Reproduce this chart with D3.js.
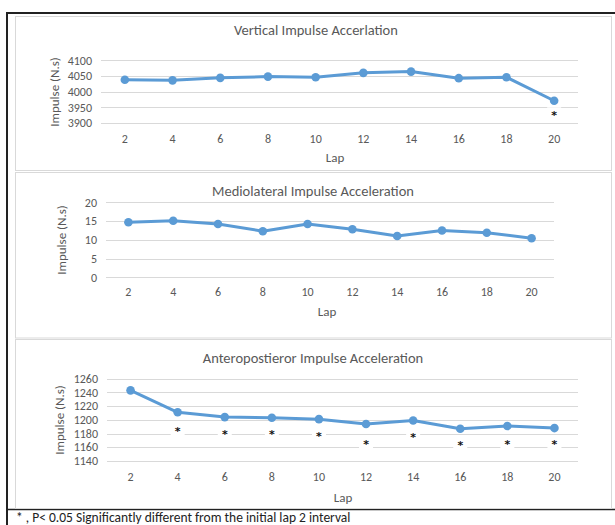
<!DOCTYPE html>
<html>
<head>
<meta charset="utf-8">
<script src="https://cdn.jsdelivr.net/npm/d3@7/dist/d3.min.js"></script>
<style>
  body { margin: 0; background: #fff; font-family: Carlito, Calibri, Lato, sans-serif; }
  .grid line { stroke: #d9d9d9; stroke-width: 1; }
  .ytick { fill: #595959; font-size: 12px; }
  .xtick { fill: #595959; font-size: 12px; }
  .ttl { fill: #595959; font-size: 14.5px; }
  .axttl { fill: #595959; font-size: 13px; }
  .star { fill: #111; font-size: 11px; font-weight: bold; font-family: "DejaVu Sans", sans-serif; }
</style>
</head>
<body>
<svg id="chart" width="615" height="525"></svg>
<script>
// lap categories shared by all three charts
var laps = [2, 4, 6, 8, 10, 12, 14, 16, 18, 20];

// vertical
var verticalImpulse = [4038, 4036, 4044, 4048, 4046, 4060, 4064, 4043, 4046, 3971];
var verticalTicks = [3900, 3950, 4000, 4050, 4100];
var verticalStarLaps = [20];
var verticalStarValues = [3931];

// mediolateral
var medioImpulse = [14.7, 15.1, 14.2, 12.3, 14.2, 12.8, 11.0, 12.5, 11.9, 10.4];
var medioTicks = [0, 5, 10, 15, 20];
var medioStarLaps = [];
var medioStarValues = [];

// anteroposterior
var anteroImpulse = [1243, 1211, 1204, 1203, 1201, 1194, 1199, 1187, 1191, 1188];
var anteroTicks = [1140, 1160, 1180, 1200, 1220, 1240, 1260];
var anteroStarLaps = [4, 6, 8, 10, 12, 14, 16, 18, 20];
var anteroStarValues = [1186, 1182.5, 1182.5, 1179, 1168, 1178, 1166, 1168, 1168];

var svg = d3.select("#chart");

// outer frame (table border)
svg.append("line").attr("x1", 7).attr("x2", 615).attr("y1", 13).attr("y2", 13)
  .attr("stroke", "#222").attr("stroke-width", 2);
svg.append("line").attr("x1", 7).attr("x2", 7).attr("y1", 12).attr("y2", 525)
  .attr("stroke", "#222").attr("stroke-width", 2);
svg.append("line").attr("x1", 7).attr("x2", 615).attr("y1", 509.5).attr("y2", 509.5)
  .attr("stroke", "#222").attr("stroke-width", 1.5);

var panels = [
  { title: "Vertical Impulse Accerlation", values: verticalImpulse, ticks: verticalTicks,
    starLaps: verticalStarLaps, starValues: verticalStarValues,
    box: [15, 16, 611, 170], x0: 101, x1: 578, yTop: 60.3, yBot: 123,
    titleX: 316, titleY: 35, xLabY: 143, lapX: 335, lapY: 162, yLabX: 59, yLabY: 92 },
  { title: "Mediolateral Impulse Acceleration", values: medioImpulse, ticks: medioTicks,
    starLaps: medioStarLaps, starValues: medioStarValues,
    box: [15, 172, 611, 337.5], x0: 106, x1: 554, yTop: 202.3, yBot: 277.3,
    titleX: 313, titleY: 196, xLabY: 296, lapX: 327, lapY: 316, yLabX: 66, yLabY: 240 },
  { title: "Anteropostieror Impulse Acceleration", values: anteroImpulse, ticks: anteroTicks,
    starLaps: anteroStarLaps, starValues: anteroStarValues,
    box: [15, 339, 611, 508], x0: 107, x1: 578, yTop: 378.7, yBot: 461,
    titleX: 313, titleY: 363, xLabY: 481, lapX: 343, lapY: 502, yLabX: 64, yLabY: 420 }
];

panels.forEach(function(p) {
  var g = svg.append("g");
  g.append("rect")
    .attr("x", p.box[0] + 0.5).attr("y", p.box[1] + 0.5)
    .attr("width", p.box[2] - p.box[0]).attr("height", p.box[3] - p.box[1])
    .attr("fill", "#fff").attr("stroke", "#d9d9d9");

  var x = d3.scalePoint().domain(laps).range([p.x0, p.x1]).padding(0.5);
  var y = d3.scaleLinear().domain(d3.extent(p.ticks)).range([p.yBot, p.yTop]);

  g.append("g").attr("class", "grid").selectAll("line")
    .data(p.ticks).enter().append("line")
    .attr("x1", p.x0).attr("x2", p.x1)
    .attr("y1", function(d) { return Math.round(y(d)) + 0.5; })
    .attr("y2", function(d) { return Math.round(y(d)) + 0.5; });

  g.selectAll(".ytick").data(p.ticks).enter().append("text")
    .attr("class", "ytick")
    .attr("x", p.x0 - 9).attr("y", function(d) { return y(d); })
    .attr("dy", "0.35em").attr("text-anchor", "end")
    .text(function(d) { return d; });

  g.selectAll(".xtick").data(laps).enter().append("text")
    .attr("class", "xtick")
    .attr("x", function(d) { return x(d); }).attr("y", p.xLabY)
    .attr("text-anchor", "middle")
    .text(function(d) { return d; });

  g.append("text").attr("class", "ttl")
    .attr("x", p.titleX).attr("y", p.titleY).attr("text-anchor", "middle")
    .text(p.title);
  g.append("text").attr("class", "axttl")
    .attr("x", p.lapX).attr("y", p.lapY).attr("text-anchor", "middle")
    .text("Lap");
  g.append("text").attr("class", "axttl")
    .attr("transform", "translate(" + p.yLabX + "," + p.yLabY + ") rotate(-90)")
    .attr("text-anchor", "middle")
    .text("Impulse (N.s)");

  var pts = laps.map(function(l, i) { return [l, p.values[i]]; });
  var line = d3.line().x(function(d) { return x(d[0]); }).y(function(d) { return y(d[1]); });
  g.append("path").datum(pts)
    .attr("d", line).attr("fill", "none")
    .attr("stroke", "#5b9bd5").attr("stroke-width", 3).attr("stroke-linejoin", "round");
  g.selectAll(".pt").data(pts).enter().append("circle")
    .attr("cx", function(d) { return x(d[0]); })
    .attr("cy", function(d) { return y(d[1]); })
    .attr("r", 4.3).attr("fill", "#5b9bd5");

  // significance markers sit in small white label boxes
  var stars = p.starLaps.map(function(l, i) { return [l, p.starValues[i]]; });
  var sg = g.selectAll(".stg").data(stars).enter().append("g")
    .attr("transform", function(d) { return "translate(" + x(d[0]) + "," + y(d[1]) + ")"; });
  sg.append("rect").attr("x", -7).attr("y", -6).attr("width", 14).attr("height", 14)
    .attr("fill", "#fff");
  sg.append("text").attr("class", "star")
    .attr("text-anchor", "middle").attr("y", 6)
    .text("*");
});

svg.append("text")
  .attr("x", 16).attr("y", 522)
  .attr("fill", "#222").attr("font-size", "13.5px")
  .text("*  , P< 0.05 Significantly different from the initial lap 2 interval");
</script>
</body>
</html>
